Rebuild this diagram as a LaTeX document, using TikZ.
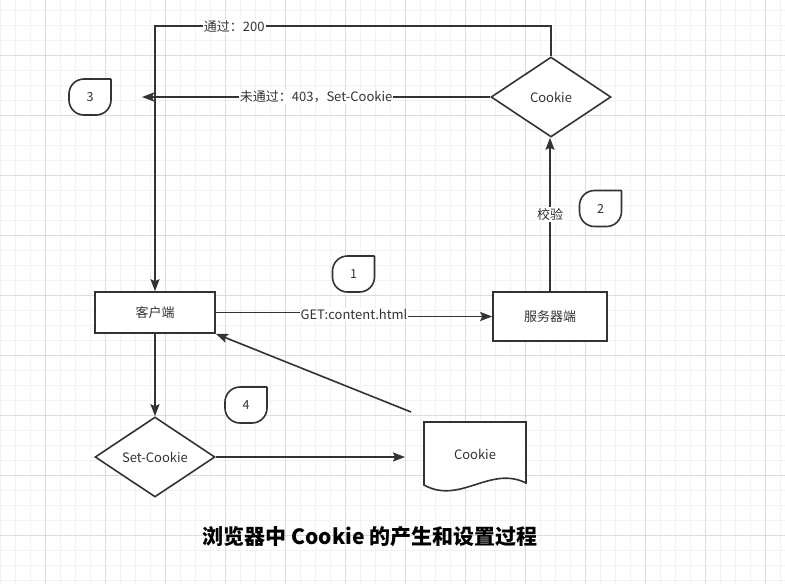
\documentclass[tikz,border=0pt]{standalone}
\usepackage{fontspec}
\setmainfont{Noto Sans CJK SC}
\usetikzlibrary{shapes.geometric,arrows.meta,calc}
\definecolor{ink}{HTML}{333333}
\definecolor{minorgrid}{HTML}{F2F2F2}
\definecolor{majorgrid}{HTML}{DCDCDC}
\begin{document}
\begin{tikzpicture}[x=1pt,y=-1pt,line width=1.6pt,
	box/.style={draw=ink,fill=white,minimum width=120pt,minimum height=41pt,inner sep=0pt,text=ink,font=\fontsize{13}{15}\selectfont},
	decide/.style={box,diamond,shape aspect=1.5,minimum width=120pt,minimum height=80pt},
	flow/.style={draw=ink,-{Stealth[length=12pt,width=9pt,inset=2pt]}},
	edgelabel/.style={fill=white,inner sep=1pt,text=ink,font=\fontsize{13}{15}\selectfont},
	tagnote/.style={minimum width=42pt,minimum height=36pt,inner sep=0pt,text=ink,font=\fontsize{12.5}{14}\selectfont},
	tagline/.style={draw=ink,fill=white,rounded corners=15pt,line cap=square},
	thingrid/.style={draw=minorgrid,line width=0.7pt},
	thickgrid/.style={draw=majorgrid,line width=0.9pt}]
	\fill[white] (0,0) rectangle (785,584);
	\useasboundingbox (0,0) rectangle (785,584);
	\foreach \x in {0,15,...,780} \draw[thingrid] (\x,0) -- (\x,584);
	\foreach \y in {10,25,...,580} \draw[thingrid] (0,\y) -- (785,\y);
	\foreach \x in {45,105,...,765} \draw[thickgrid] (\x,0) -- (\x,584);
	\foreach \y in {55,115,...,535} \draw[thickgrid] (0,\y) -- (785,\y);

	\node[box] (client) at (155,312.5) {客户端};
	\node[box,minimum width=114pt,minimum height=49pt] (server) at (550,316.5) {服务器端};
	\node[decide] (check) at (551,97) {Cookie};
	\node[decide] (setck) at (155,457) {Set-Cookie};
	\draw[draw=ink,fill=white] (424,422) -- (526,422) -- (526,483) .. controls (490,465) and (460,505) .. (424,485) -- cycle;
	\node[box,draw=none,fill=none,minimum width=102pt,minimum height=63pt] (jar) at (475,454) {Cookie};

	\foreach \tag/\x/\y in {1/353.5/274,2/600.5/208.5,3/90/97,4/246/405} {
		\draw[tagline] (\x+21,\y-18) -- (\x+21,\y+18) -- (\x-21,\y+18) -- (\x-21,\y-18) -- (\x+21,\y-18);
		\node[tagnote] (tag\tag) at (\x,\y) {\tag};
	}

	\coordinate (deny) at (142,97);
	\coordinate (tojar) at (405,457);
	\coordinate (fromjar) at (411,412);
	\draw[flow] (client.east) -| ($(client.east)!0.5!(server.west)$) node[edgelabel] {GET:content.html} |- (server.west);
	\draw[flow] (server.north) -- node[edgelabel] {校验} (server.north |- check.south);
	\draw[flow] (check.north) -- ++(0,-30) -| node[pos=0.4,edgelabel] {通过：200} (client.north);
	\draw[flow] (check.west) -- node[edgelabel] {未通过：403，Set-Cookie} (deny);
	\draw[flow] (client.south) -- (setck.north);
	\draw[flow] (setck.east) -- (tojar);
	\draw[flow] (fromjar) -- (client.south east);

	\node[font=\bfseries\fontsize{21}{24}\selectfont] (title) at (370,537) {浏览器中 Cookie 的产生和设置过程};
\end{tikzpicture}
\end{document}
